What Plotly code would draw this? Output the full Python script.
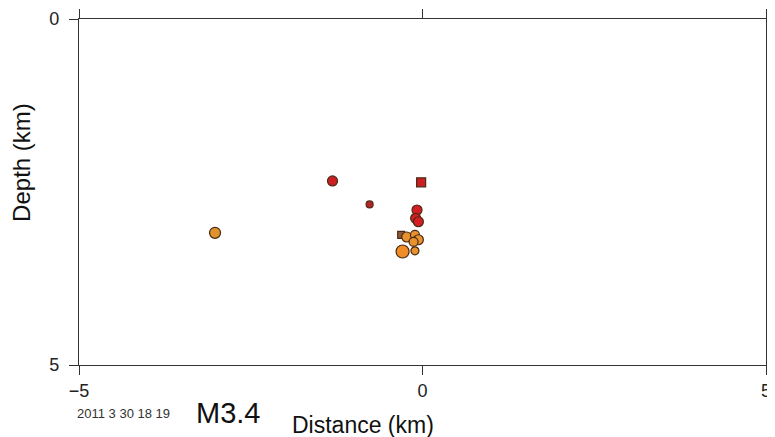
import plotly.graph_objects as go

# Hypocenter data (distance km, depth km)
dist = [-1.31, -0.77, -0.02, -0.08, -0.10, -0.06, -0.31, -0.23, -0.11, -0.06, -0.13, -0.29, -0.11, -3.02]
depth = [2.34, 2.68, 2.36, 2.76, 2.88, 2.93, 3.12, 3.15, 3.12, 3.19, 3.22, 3.36, 3.35, 3.09]
sizes = [10, 7, 9, 10, 10, 10, 7, 10, 9, 10, 9, 13, 8, 11]
colors = ["#cc1f24", "#b3232a", "#cc1f24", "#d41e24", "#d41e24", "#d41e24", "#8a5a3a",
          "#e8922e", "#e8922e", "#e8922e", "#e8922e", "#f08c28", "#e8922e", "#e0922e"]
symbols = ["circle", "circle", "square", "circle", "circle", "circle", "square",
           "circle", "circle", "circle", "circle", "circle", "circle", "circle"]

x_ticks = [-5, 0, 5]
y_ticks = [0, 5]
date_label = "2011 3 30 18 19"
mag_label = "M3.4"

fig = go.Figure()
fig.add_trace(go.Scatter(
    x=dist, y=depth, mode="markers",
    marker=dict(size=sizes, color=colors, symbol=symbols, opacity=1,
                line=dict(color="#4a2a14", width=1.2)),
    showlegend=False, hoverinfo="skip"))

font = "Arial, Liberation Sans, sans-serif"
# page body has an 8px margin, so the figure is 8px smaller and shifted
fig.update_layout(
    width=767, height=429,
    margin=dict(l=71, r=9, t=11, b=72, autoexpand=False),
    paper_bgcolor="white", plot_bgcolor="white",
    font=dict(family=font, color="#222222"),
    xaxis=dict(range=[-5, 5], tickvals=x_ticks, ticktext=["\u22125", "0", "5"],
               showgrid=False, zeroline=False, showline=True, linecolor="#333333",
               linewidth=1.3, mirror="ticks", ticks="outside", ticklen=9,
               tickcolor="#333333", tickwidth=1.3, tickfont=dict(size=18),
               automargin=False),
    yaxis=dict(range=[5, 0], tickvals=y_ticks, showgrid=False, zeroline=False,
               showline=True, linecolor="#333333", linewidth=1.3, mirror=True,
               ticks="outside", ticklen=9, tickcolor="#333333", tickwidth=1.3,
               tickfont=dict(size=18), ticklabelstandoff=6, automargin=False),
    annotations=[
        dict(text=date_label, x=0.0648, y=-0.139, xref="paper", yref="paper",
             showarrow=False, font=dict(size=13, color="#333333"),
             xanchor="center", yanchor="middle"),
        dict(text=mag_label, x=0.2176, y=-0.139, xref="paper", yref="paper",
             showarrow=False, font=dict(size=29, color="#111111"),
             xanchor="center", yanchor="middle"),
        dict(text="Distance (km)", x=0.414, y=-0.174, xref="paper", yref="paper",
             showarrow=False, font=dict(size=23, color="#111111"),
             xanchor="center", yanchor="middle"),
        dict(text="Depth (km)", x=-0.083, y=0.587, xref="paper", yref="paper",
             showarrow=False, font=dict(size=24, color="#111111"), textangle=-90,
             xanchor="center", yanchor="middle"),
    ],
)

fig.write_html("out.html")
